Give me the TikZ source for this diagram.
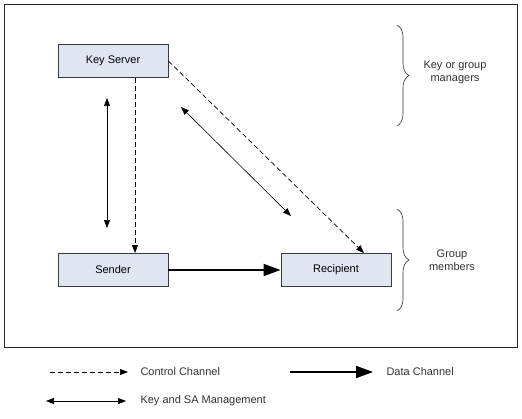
\documentclass[tikz,border=0pt]{standalone}
\usepackage{fontspec}
\setmainfont{Liberation Sans}
\usepackage{xcolor}
\usetikzlibrary{positioning, arrows.meta, decorations.pathreplacing}

\definecolor{boxfill}{HTML}{DFE6F2}
\definecolor{boxline}{HTML}{3A3A3A}

\tikzset{
  entity/.style={draw=boxline, fill=boxfill, line width=0.9pt, minimum width=110pt, minimum height=33pt, inner sep=0pt},
  ctrl/.style={dashed, dash pattern=on 5pt off 3pt, line width=0.7pt, -{Triangle[length=8pt,width=6pt]}},
  mgmt/.style={line width=0.6pt, {Triangle[length=8pt,width=6pt]}-{Triangle[length=8pt,width=6pt]}},
  datach/.style={line width=2pt, -{Triangle[length=17pt,width=12pt]}},
  grp/.style={decorate, decoration={brace, amplitude=12pt, aspect=0.5}, line width=0.6pt, draw=black!80},
  lbl/.style={align=center, font=\fontsize{11}{13}\selectfont, text=black!80}
}

\begin{document}
\begin{tikzpicture}[x=1pt, y=-1pt, font=\fontsize{11}{13}\selectfont]
      \useasboundingbox (0,0) rectangle (522,418);
      % Frame
      \draw[line width=1pt, draw=black!85] (4,4) rectangle (517,347);

      % Entities
      \node[entity] (server) at (113,61) {Key Server};
      \node[entity] (sender) at (113,270) {Sender};
      \node[entity] (recip) at (336,270) {Recipient};

      % Control channel
      \draw[ctrl] (server.south -| 135,0) -- (sender.north -| 135,0);
      \draw[ctrl] (server.east) -- (recip.north -| 364,0);

      % Key and SA management
      \coordinate (m1) at (107,98);
      \coordinate (m2) at (107,228);
      \coordinate (m3) at (181,107);
      \coordinate (m4) at (291,216);
      \draw[mgmt] (m1) -- (m2);
      \draw[mgmt] (m3) -- (m4);

      % Data channel
      \draw[datach] (sender.east) -- (recip.west);

      % Groups
      \coordinate (b1) at (397,25);
      \coordinate (b2) at (397,126);
      \coordinate (b3) at (397,209);
      \coordinate (b4) at (397,311);
      \draw[grp] (b1) -- (b2);
      \draw[grp] (b3) -- (b4);
      \node[lbl] (mgrs) at (455,72) {Key or group\\managers};
      \node[lbl] (mbrs) at (452,260) {Group\\members};

      % Legend
      \coordinate (l1) at (50,372);
      \coordinate (l2) at (128,372);
      \draw[ctrl] (l1) -- (l2);
      \node[lbl, anchor=west] (lctrl) at (137,372) {Control Channel};
      \coordinate (l3) at (290,372);
      \coordinate (l4) at (373,372);
      \draw[datach] (l3) -- (l4);
      \node[lbl, anchor=west] (ldata) at (383,372) {Data Channel};
      \coordinate (l5) at (46,401);
      \coordinate (l6) at (126,401);
      \draw[mgmt] (l5) -- (l6);
      \node[lbl, anchor=west] (lmgmt) at (137,401) {Key and SA Management};
\end{tikzpicture}
\end{document}
